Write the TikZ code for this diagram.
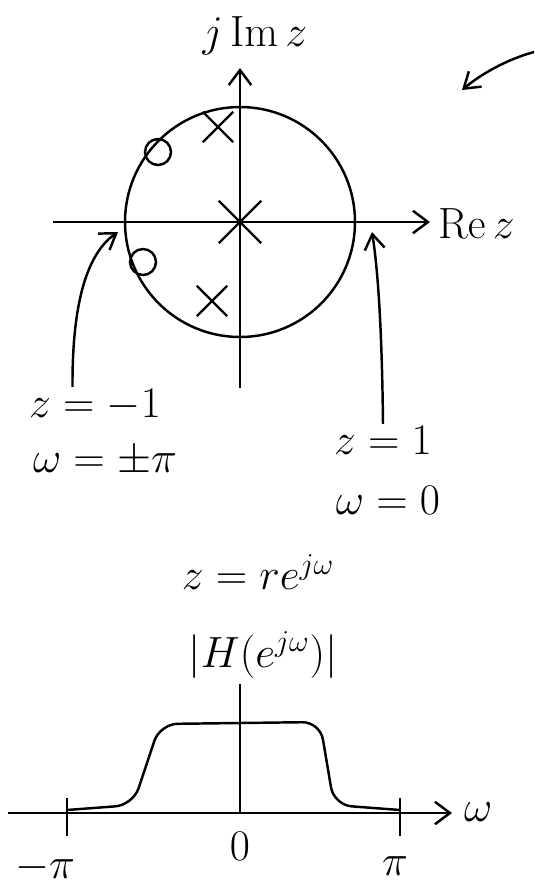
\documentclass[tikz,border=0pt]{standalone}
\usetikzlibrary{arrows.meta,shapes.misc}

\begin{document}
\begin{tikzpicture}[
  x=0.2mm, y=-0.2mm,
  axis/.style={line width=1.4pt, -{Straight Barb[length=3mm, width=4.5mm, line width=1.4pt]}},
  pointer/.style={line width=1.4pt, -{Straight Barb[length=3mm, width=4mm, line width=1.4pt]}},
  pole/.style={cross out, draw, line width=1.4pt, minimum size=5.6mm, inner sep=0pt},
  zero/.style={circle, draw, line width=1.4pt, minimum size=5.2mm, inner sep=0pt},
  lbl/.style={font=\fontsize{24}{26}\selectfont, inner sep=1pt},
]
\useasboundingbox (0,0) rectangle (534,891);

% === Z-PLANE ===
\coordinate (o) at (240,222);
\coordinate (reL) at (53,222);
\coordinate (reR) at (430,222);
\coordinate (imB) at (240,388);
\coordinate (imT) at (240,68);
\draw[axis] (reL) -- (reR);
\draw[axis] (imB) -- (imT);
\node[lbl, anchor=west] (relbl) at (436,224) {$\mathrm{Re}\,z$};
\node[lbl] (imlbl) at (255,36) {$j\,\mathrm{Im}\,z$};

\draw[line width=1.4pt] (o) circle[radius=115];

\node[zero] (z1) at (158,152) {};
\node[zero] (z2) at (143,262) {};
\node[pole] (p1) at (218,127) {};
\node[pole] (p2) at (212,301) {};
\node[pole, minimum size=8mm] (p0) at (o) {};

\coordinate (corner) at (462,90);
\coordinate (cfree) at (534,52);
\draw[pointer] (cfree) .. controls (505,60) and (480,75) .. (corner);

% === LABELS z = -1, z = 1 ===
\node[lbl] (zm1) at (95,405) {$z=-1$};
\node[lbl] (wpi) at (105,462) {$\omega=\pm\pi$};
\node[lbl] (zp1) at (383,440) {$z=1$};
\node[lbl] (w0) at (388,500) {$\omega=0$};
\coordinate (mleft) at (118,232);
\coordinate (mright) at (372,232);
\draw[pointer] ([xshift=-4.5mm]zm1.north) .. controls (72,290) and (92,250) .. (mleft);
\draw[pointer] (zp1.north) .. controls (382,330) and (378,270) .. (mright);

% === MAGNITUDE RESPONSE ===
\node[lbl] (subst) at (258,572) {$z=re^{j\omega}$};
\node[lbl] (mag) at (263,655) {$|H(e^{j\omega})|$};
\coordinate (wL) at (8,813);
\coordinate (wR) at (452,813);
\coordinate (hT) at (240,684);
\coordinate (hB) at (240,813);
\draw[axis] (wL) -- (wR);
\draw[line width=1.4pt] (hB) -- (hT);
\node[lbl, anchor=west] (wlbl) at (462,812) {$\omega$};
\draw[line width=1.4pt] (67,798) -- (67,836) (400,798) -- (400,836);
\node[lbl] (tmpi) at (45,868) {$-\pi$};
\node[lbl] (t0) at (240,846) {$0$};
\node[lbl] (tpi) at (395,866) {$\pi$};
\draw[line width=1.4pt, rounded corners=10pt]
  (67,810) -- (133,805) -- (160,724) -- (320,722) -- (334,805) -- (400,810);
\end{tikzpicture}
\end{document}
